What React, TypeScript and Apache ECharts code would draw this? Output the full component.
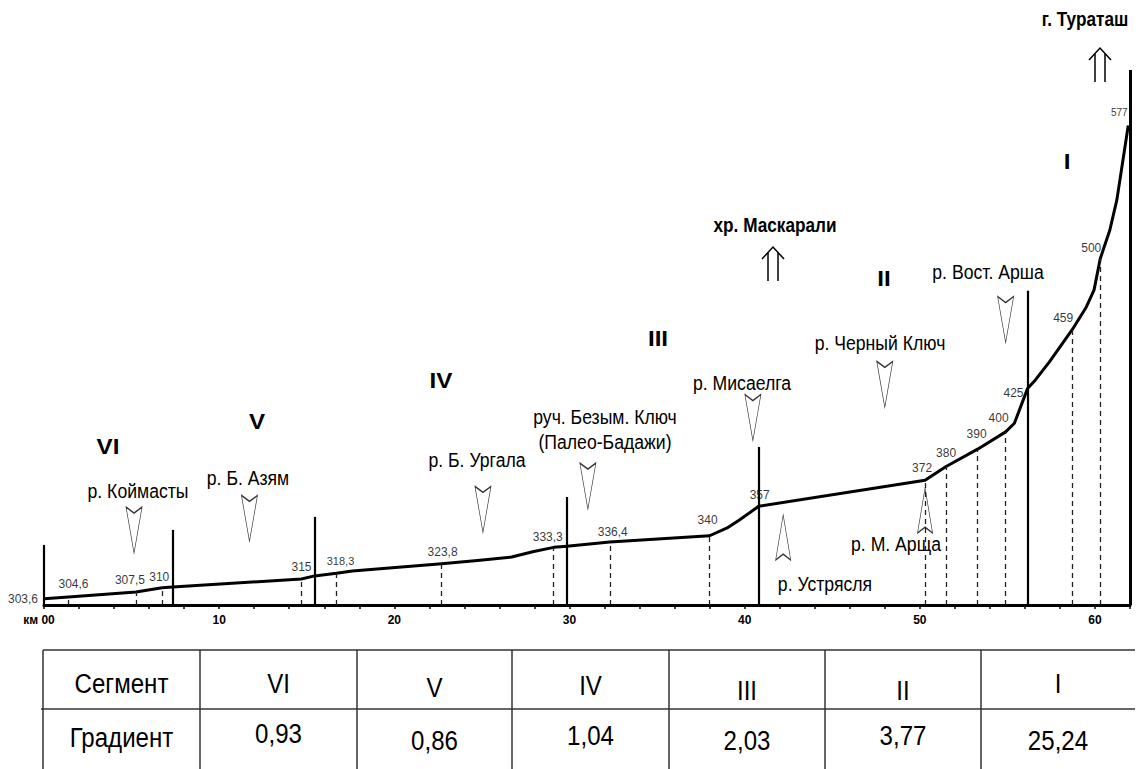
import React, { useEffect, useRef } from 'react';
import * as echarts from 'echarts';

// ---- data ----
const profileKm = [0, 1.4, 5.25, 6.75, 7.35, 14.7, 15.45, 16.7, 17.6, 22.7, 24.9, 26.7, 27.9, 29.1, 29.85, 32.3, 38.0, 39.0, 39.7, 40.8, 50.3, 51.5, 53.3, 54.9, 55.4, 56.15, 56.6, 57.4, 58.7, 59.5, 59.95, 60.3, 60.85, 61.25, 61.9];
const profileElev = [303.6, 304.6, 307.5, 310, 310.4, 315, 316.8, 318.3, 319.6, 323.8, 325.9, 327.7, 330.8, 333.3, 334, 336.4, 340, 344.5, 349.1, 357, 372, 380, 390, 400, 405, 425, 430, 440.4, 459, 472, 482, 500, 516.6, 534, 577];

const pointKm = [0, 1.4, 5.25, 6.75, 14.7, 16.7, 22.7, 29.1, 32.3, 38.0, 40.8, 50.3, 51.5, 53.3, 54.9, 56.15, 58.7, 60.3, 61.9];
const pointElev = [303.6, 304.6, 307.5, 310, 315, 318.3, 323.8, 333.3, 336.4, 340, 357, 372, 380, 390, 400, 425, 459, 500, 577];
const pointText = ['303,6', '304,6', '307,5', '310', '315', '318,3', '323,8', '333,3', '336,4', '340', '357', '372', '380', '390', '400', '425', '459', '500', '577'];

const dropKm = [1.4, 5.25, 6.75, 14.7, 16.7, 22.7, 29.1, 32.3, 38.0, 50.3, 51.5, 53.3, 54.9, 58.7, 60.3];
const dropElev = [304.6, 307.5, 310, 315, 318.3, 323.8, 333.3, 336.4, 340, 372, 380, 390, 400, 459, 500];

const boundaryKm = [0, 7.35, 15.45, 29.85, 40.8, 56.15, 62];
const boundaryTop = [334.7, 343.4, 350.9, 362.4, 391.3, 481.5, 609];

const downMarkerKm = [5.14, 11.73, 25.06, 31.05, 40.47, 48.0, 54.9];
const downMarkerElev = [343.3, 350.0, 355.2, 368.7, 408.3, 427.4, 464.9];
const upMarkerKm = [50.3, 42.2];
const upMarkerElev = [354.6, 339.0];

const xTickValues = [0, 10, 20, 30, 40, 50, 60];

const riverNames = ['р. Коймасты', 'р. Б. Азям', 'р. Б. Ургала', 'руч. Безым. Ключ', '(Палео-Бадажи)', 'р. Мисаелга', 'р. Черный Ключ', 'р. Вост. Арша', 'р. М. Арща', 'р. Устрясля'];
const romanLabels = ['VI', 'V', 'IV', 'III', 'II', 'I'];
const peakNames = ['хр. Маскарали', 'г. Тураташ'];

const tableHeader = ['Сегмент', 'Градиент'];
const segments = ['VI', 'V', 'IV', 'III', 'II', 'I'];
const gradients = ['0,93', '0,86', '1,04', '2,03', '3,77', '25,24'];

// ---- layout / styles ----
const FONT = '"Liberation Sans", Arial, sans-serif';
const pointLabelOffsets = [[-21, 0], [5, -13], [-6, -12], [-3, -11], [0, -12], [4, -12], [1, -12], [-6, -10], [3, -10], [-2, -16], [1, -11], [-3, -12], [0, -14], [-1, -15], [-7, -14], [-14, 4], [-9, -12], [-9, -11], [-9, -13]];
const pointLabelSizes = [12, 12, 12, 12, 12, 11, 12, 12, 12, 12, 12, 12, 12, 12, 12, 12, 12, 12, 10];
const riverPos = [[138, 490], [248, 477], [477, 459], [605, 416], [605, 441], [742, 382], [880, 342], [988, 271], [896, 543], [825, 583]];
const romanPos = [[108, 446], [257, 421], [441, 380], [658, 338], [884, 278], [1067, 161]];
const peakPos = [[775, 225], [1085, 19]];
const peakArrowPos = [[773, 247], [1100, 48]];
const colX = [43, 200, 357, 512, 669, 825, 981, 1135];
const headerY = [683, 683, 687, 685, 690, 690, 683];
const gradY = [737, 733, 740, 735, 740, 735, 740];

function txt(text: string, x: number, y: number, size: number, bold: boolean, sx = 1) {
  return {
    type: 'text',
    x,
    y,
    scaleX: sx,
    silent: true,
    style: {
      text,
      fill: '#000',
      font: `${bold ? 'bold ' : ''}${size}px ${FONT}`,
      textAlign: 'center',
      textVerticalAlign: 'middle',
      align: 'center',
      verticalAlign: 'middle',
    },
  };
}

function doubleArrow(cx: number, ty: number) {
  return [
    { type: 'polyline', silent: true, shape: { points: [[cx - 11, ty + 12], [cx, ty], [cx + 11, ty + 12]] }, style: { stroke: '#000', fill: 'none', lineWidth: 1.5 } },
    { type: 'line', silent: true, shape: { x1: cx - 5, y1: ty + 6, x2: cx - 5, y2: ty + 34 }, style: { stroke: '#000', lineWidth: 1.5 } },
    { type: 'line', silent: true, shape: { x1: cx + 5, y1: ty + 6, x2: cx + 5, y2: ty + 34 }, style: { stroke: '#000', lineWidth: 1.5 } },
  ];
}

function buildGraphic() {
  const els: any[] = [];
  riverNames.forEach((n, i) => els.push(txt(n, riverPos[i][0], riverPos[i][1], 21, false, 0.84)));
  romanLabels.forEach((n, i) => els.push(txt(n, romanPos[i][0], romanPos[i][1], 22, true, 1.1)));
  peakNames.forEach((n, i) => els.push(txt(n, peakPos[i][0], peakPos[i][1], 20, true, 0.86)));
  peakArrowPos.forEach((p) => els.push(...doubleArrow(p[0], p[1])));
  // table
  const lineStyle = { stroke: '#333', lineWidth: 1.5 };
  els.push({ type: 'line', silent: true, shape: { x1: colX[0], y1: 650, x2: colX[7], y2: 650 }, style: lineStyle });
  els.push({ type: 'line', silent: true, shape: { x1: colX[0] - 2, y1: 709, x2: colX[7], y2: 709 }, style: lineStyle });
  for (let i = 0; i < 7; i++) {
    els.push({ type: 'line', silent: true, shape: { x1: colX[i], y1: 650, x2: colX[i], y2: 769 }, style: lineStyle });
  }
  const cells0 = [tableHeader[0], ...segments];
  const cells1 = [tableHeader[1], ...gradients];
  for (let i = 0; i < 7; i++) {
    const cx = (colX[i] + colX[i + 1]) / 2;
    els.push(txt(cells0[i], cx, headerY[i], 28, false, 0.86));
    els.push(txt(cells1[i], cx, gradY[i], 28, false, 0.86));
  }
  return els;
}

const DOWN_PATH = 'path://M0,0L8,6L16,0L8,46Z';
const UP_PATH = 'path://M8,0L16,46L8,40L0,46Z';

function buildOption() {
  const profile = profileKm.map((k, i) => [k, profileElev[i]]);
  const drops = dropKm.map((k, i) => [
    { coord: [k, 300] },
    { coord: [k, dropElev[i]] },
  ]);
  const bounds = boundaryKm.map((k, i) => [
    { coord: [k, 300], lineStyle: { width: i === boundaryKm.length - 1 ? 3 : 2.2 } },
    { coord: [k, boundaryTop[i]] },
  ]);
  const points = pointKm.map((k, i) => ({
    value: [k, pointElev[i]],
    label: { offset: pointLabelOffsets[i], fontSize: pointLabelSizes[i] },
  }));
  return {
    animation: false,
    backgroundColor: '#fff',
    grid: { left: 44, right: 13, top: 51, bottom: 164, containLabel: false },
    xAxis: {
      type: 'value',
      min: 0,
      max: 62,
      interval: 2,
      splitLine: { show: false },
      axisLine: { show: true, lineStyle: { color: '#000', width: 3 } },
      axisTick: { show: true, length: 4, lineStyle: { color: '#000', width: 1.5 } },
      axisLabel: {
        margin: 9,
        color: '#000',
        fontFamily: FONT,
        fontWeight: 'bold',
        fontSize: 12,
        formatter: (v: number) => {
          if (!xTickValues.includes(v)) return '';
          return v === 0 ? '{a|км 00}' : String(v);
        },
        rich: { a: { fontFamily: FONT, fontWeight: 'bold', fontSize: 12, color: '#000', padding: [0, 10, 0, 0] } },
      },
    },
    yAxis: { type: 'value', min: 300, max: 620, show: false, splitLine: { show: false } },
    graphic: buildGraphic(),
    series: [
      {
        type: 'line',
        name: 'drops',
        data: drops.map((d) => d[1].coord),
        symbol: 'none',
        lineStyle: { opacity: 0 },
        z: 1,
        markLine: {
          silent: true,
          symbol: 'none',
          label: { show: false },
          lineStyle: { color: '#222', type: [5, 4], width: 1.3 },
          data: drops,
        },
      },
      {
        type: 'line',
        name: 'bounds',
        data: boundaryKm.map((k, i) => [k, boundaryTop[i]]),
        symbol: 'none',
        lineStyle: { opacity: 0 },
        z: 2,
        markLine: {
          silent: true,
          symbol: 'none',
          label: { show: false },
          lineStyle: { color: '#000', type: 'solid', width: 2.2 },
          data: bounds,
        },
      },
      {
        type: 'line',
        name: 'profile',
        data: profile,
        symbol: 'none',
        smooth: false,
        lineStyle: { color: '#000', width: 3, join: 'round' },
        z: 3,
      },
      {
        type: 'scatter',
        name: 'points',
        data: points,
        symbolSize: 1,
        itemStyle: { color: 'rgba(0,0,0,0)' },
        z: 4,
        label: {
          show: true,
          position: 'inside',
          color: '#000',
          fontFamily: FONT,
          fontSize: 12,
          formatter: (p: any) => pointText[p.dataIndex],
        },
      },
      {
        type: 'scatter',
        name: 'downMarkers',
        data: downMarkerKm.map((k, i) => [k, downMarkerElev[i]]),
        symbol: DOWN_PATH,
        symbolSize: [16, 46],
        itemStyle: { color: 'rgba(0,0,0,0)', borderColor: '#000', borderWidth: 1 },
        z: 5,
      },
      {
        type: 'scatter',
        name: 'upMarkers',
        data: upMarkerKm.map((k, i) => [k, upMarkerElev[i]]),
        symbol: UP_PATH,
        symbolSize: [15, 45],
        itemStyle: { color: 'rgba(0,0,0,0)', borderColor: '#000', borderWidth: 1 },
        z: 5,
      },
    ],
  };
}

export default function App() {
  const ref = useRef<HTMLDivElement>(null);
  useEffect(() => {
    document.body.style.margin = '0';
    const chart = echarts.init(ref.current as HTMLDivElement, null, { renderer: 'svg' });
    chart.setOption(buildOption() as any);
    return () => chart.dispose();
  }, []);
  return (
    <div
      ref={ref}
      style={{ position: 'fixed', left: 0, top: 0, width: 1143, height: 769, background: '#fff' }}
    />
  );
}
